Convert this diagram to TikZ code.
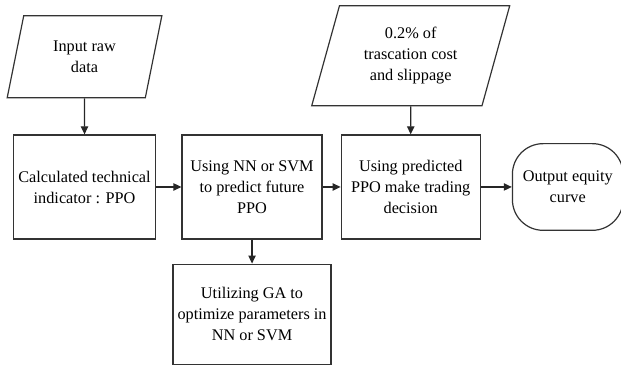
\documentclass[tikz,border=0pt]{standalone}
\usepackage{fontspec}
\setmainfont{Liberation Serif}
\usepackage{tikz}
\usetikzlibrary{shapes.geometric, arrows}
\usetikzlibrary {arrows.meta}
\usetikzlibrary{positioning}
\tikzstyle{box} = [rectangle, minimum height=78pt, align=center, draw=black!80, line width=0.9pt, inner sep=2pt]
\tikzstyle{io} = [trapezium, trapezium left angle=66, trapezium right angle=114, trapezium stretches body, align=center, draw=black!80, line width=0.9pt, inner sep=2pt]
\tikzstyle{term} = [rectangle, rounded corners=23pt, minimum width=83pt, minimum height=65pt, align=center, draw=black!80, line width=0.9pt]
\tikzstyle{arrow} = [line width=0.9pt, black!85, -{Triangle[length=6pt, width=5.5pt]}]

\begin{document}
\begin{tikzpicture}[node distance=18pt, font=\fontsize{12.2}{15.75}\selectfont]
    \useasboundingbox (-63.4pt,-135pt) rectangle (402.4pt,140.25pt);
    \node (calc) [box, minimum width=107pt] at (0,0) {Calculated technical\\indicator : PPO};
    \node (pred) [box, minimum width=105pt, right = 18.75pt of calc] {Using NN or SVM\\to predict future\\PPO};
    \node (trade) [box, minimum width=104.25pt, right = 13.5pt of pred] {Using predicted\\PPO make trading\\decision};
    \node (curve) [term, right = 23.25pt of trade] {Output equity\\curve};
    \node (ga) [box, minimum width=118.5pt, minimum height=75pt, below = 18pt of pred] {Utilizing GA to\\optimize parameters in\\NN or SVM};
    \node (raw) [io, minimum width=116pt, minimum height=61.5pt, above = 27pt of calc] {Input raw\\data};
    \node (cost) [io, minimum width=148.5pt, minimum height=75pt, above = 21pt of trade] {0.2\% of\\trascation cost\\and slippage};
    \draw [arrow] (raw) -- (calc);
    \draw [arrow] (calc) -- (pred);
    \draw [arrow] (pred) -- (trade);
    \draw [arrow] (trade) -- (curve);
    \draw [arrow] (cost) -- (trade);
    \draw [arrow] (pred) -- (ga);
    \end{tikzpicture}
\end{document}
